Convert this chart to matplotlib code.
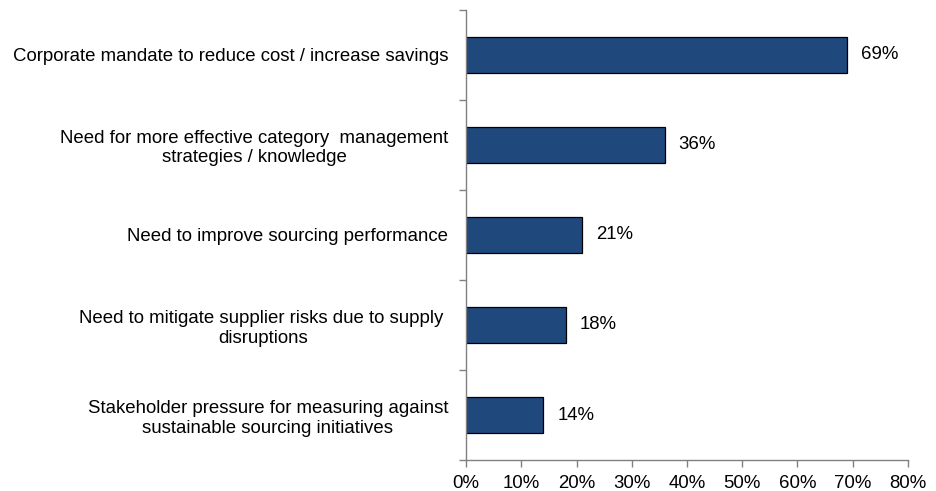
import numpy as np
import matplotlib
matplotlib.use('Agg')
import matplotlib.pyplot as plt

plt.rcParams['font.family'] = ['Liberation Sans', 'DejaVu Sans']

# survey drivers, top to bottom
categories = [
    'Corporate mandate to reduce cost / increase savings',
    'Need for more effective category  management\nstrategies / knowledge',
    'Need to improve sourcing performance',
    'Need to mitigate supplier risks due to supply \ndisruptions',
    'Stakeholder pressure for measuring against\nsustainable sourcing initiatives',
]
shares = [69, 36, 21, 18, 14]
xtick_values = [0, 10, 20, 30, 40, 50, 60, 70, 80]

bar_color = '#1F497D'
axis_color = '#808080'
fs = 13.4

fig = plt.figure(figsize=(9.36, 4.91), dpi=100)
ax = fig.add_axes([0.498, 0.063, 0.472, 0.917])

ypos = np.arange(len(categories))
ax.barh(ypos, shares, height=0.4, color=bar_color, edgecolor='black', linewidth=0.9)

for y, v in zip(ypos, shares):
    ax.text(v + 2.5, y, f'{v}%', va='center', ha='left', fontsize=fs)

ax.set_xlim(0, 80)
ax.set_ylim(len(categories) - 0.5, -0.5)

ax.set_xticks(xtick_values)
ax.set_xticklabels([f'{v}%' for v in xtick_values], fontsize=fs)

# ticks at category boundaries, labels at category centres
ax.set_yticks(np.arange(-0.5, len(categories), 1))
ax.set_yticklabels([])
ax.set_yticks(ypos, minor=True)
ax.set_yticklabels(categories, minor=True, fontsize=fs)
for lbl in ax.get_yticklabels(minor=True):
    lbl.set_multialignment('center')
    lbl.set_linespacing(1.2)
ax.tick_params(axis='y', which='minor', length=0, pad=13)
ax.tick_params(axis='y', which='major', length=5, color=axis_color, width=1)
ax.tick_params(axis='x', length=5, color=axis_color, width=1, pad=6)

for side in ['top', 'right']:
    ax.spines[side].set_visible(False)
for side in ['left', 'bottom']:
    ax.spines[side].set_color(axis_color)
    ax.spines[side].set_linewidth(1)

fig.savefig('out.png', dpi=100)
